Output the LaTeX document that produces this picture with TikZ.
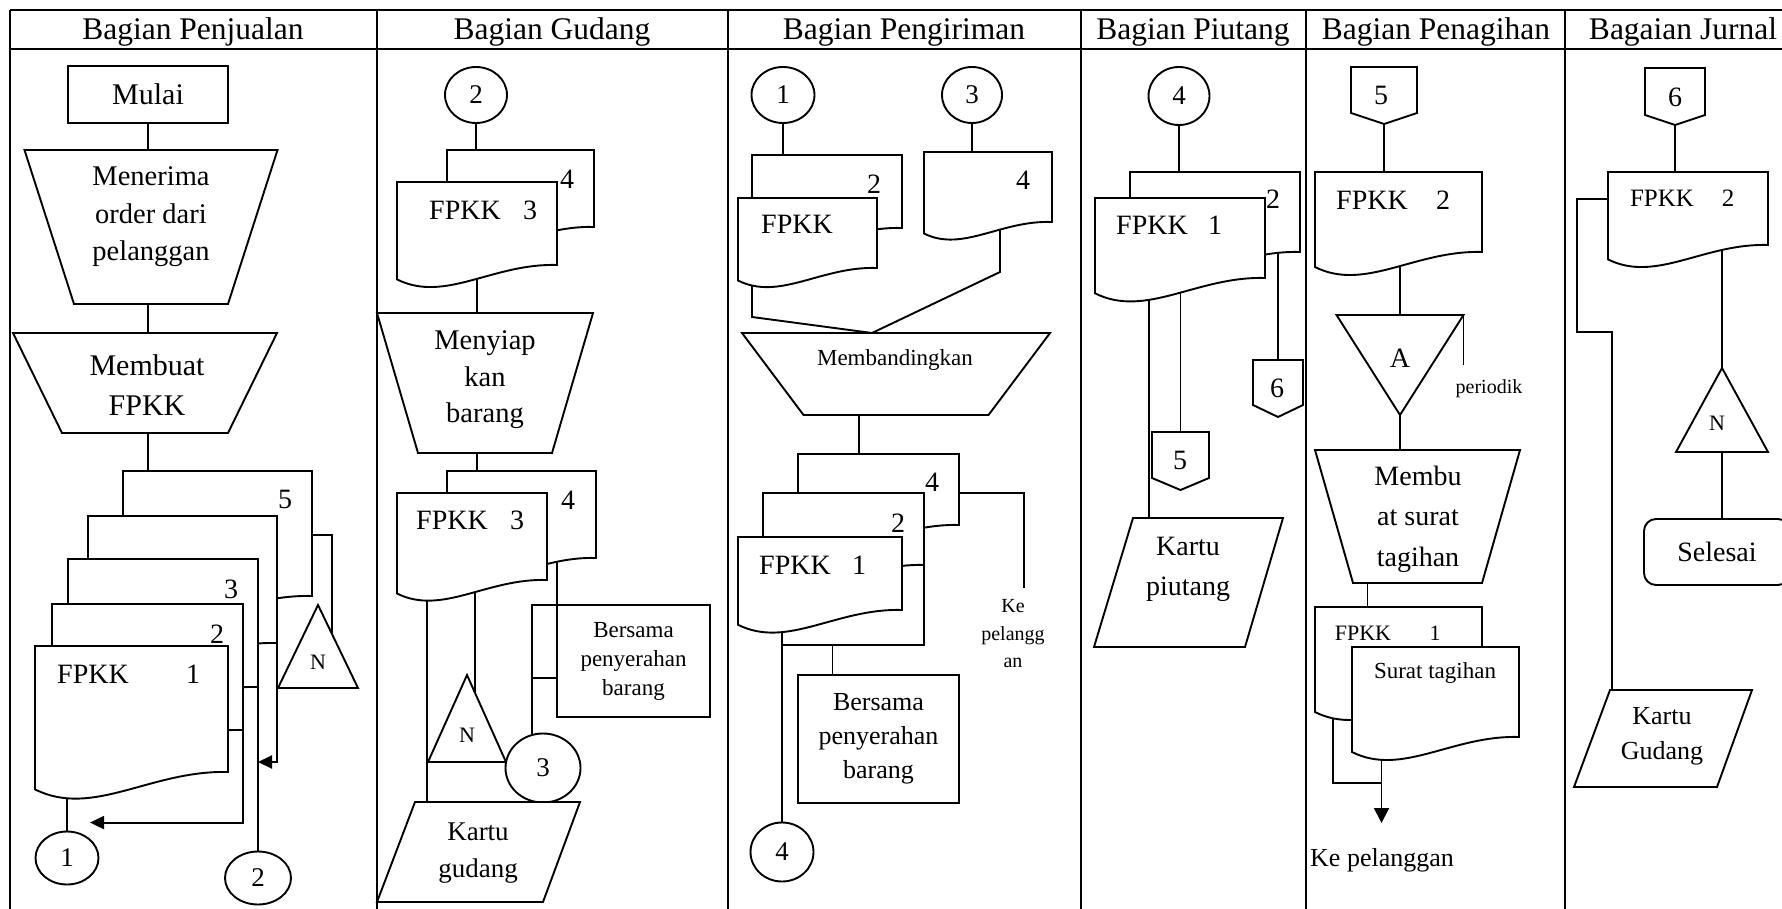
\documentclass[tikz,border=0pt]{standalone}
\usepackage{fontspec}
\setmainfont{Liberation Serif}
\usetikzlibrary{arrows.meta,positioning,calc,shapes.geometric,backgrounds}

\tikzset{
  lane/.style={line width=1.7pt},
  shp/.style={draw, fill=white, line width=1.9pt},
  flow/.style={line width=1.9pt},
  flowtip/.style={-{Triangle[length=14pt,width=13pt]}},
  shapebox/.style 2 args={inner sep=0pt, outer sep=0pt, minimum width={(#1)*1pt}, minimum height={(#2)*1pt}},
  lbl/.style={inner sep=0pt, align=center, font=\fontsize{28}{37}\selectfont},
  hdr/.style={inner sep=0pt, anchor=base, font=\fontsize{31.5}{34}\selectfont},
  conn/.style={ellipse, draw, fill=white, line width=1.9pt, inner sep=0pt, font=\fontsize{27}{30}\selectfont}
}

% document: name, left, top, right, bottom at right edge
\newcommand{\docsym}[5]{%
  \draw[shp] (#2,#3) -- (#4,#3) -- (#4,#5)
    .. controls ({#2+0.6*(#4-#2)},{#5-2}) and ({#2+0.3*(#4-#2)},{#5+0.24*(#4-#2)})
    .. (#2,{#5+0.09*(#4-#2)}) -- cycle;
  \node[shapebox={#4-#2}{#5-#3}, anchor=north west] (#1) at (#2,#3) {};}
% manual operation: name, centre x, top, bottom, top half width, bottom half width
\newcommand{\manop}[6]{%
  \draw[shp] ({#2-#5},#3) -- ({#2+#5},#3) -- ({#2+#6},#4) -- ({#2-#6},#4) -- cycle;
  \node[shapebox={2*#5}{#4-#3}, anchor=north] (#1) at (#2,#3) {};}
% card: name, top, top left, top right, bottom, bottom left, bottom right
\newcommand{\datacard}[7]{%
  \draw[shp] (#3,#2) -- (#4,#2) -- (#7,#5) -- (#6,#5) -- cycle;
  \node[shapebox={#4-#6}{#5-#2}, anchor=north west] (#1) at (#6,#2) {};}
% file triangle: name, apex x, apex y, base y, half width
\newcommand{\filetri}[5]{%
  \draw[shp] (#2,#3) -- ({#2+#5},#4) -- ({#2-#5},#4) -- cycle;
  \node[shapebox={2*#5}{abs(#4-#3)}] (#1) at (#2,{(#3+#4)/2}) {};}
% off-page connector: name, centre x, top, side bottom, point, half width
\newcommand{\offpage}[6]{%
  \draw[shp] ({#2-#6},#3) -- ({#2+#6},#3) -- ({#2+#6},#4) -- (#2,#5) -- ({#2-#6},#4) -- cycle;
  \node[shapebox={2*#6}{#5-#3}, anchor=north] (#1) at (#2,#3) {};}

\begin{document}
\begin{tikzpicture}[x=1pt, y=-1pt]
  \useasboundingbox (0,0) rectangle (1782,909);

  % Headers
  \node[hdr] (hPenjualan) at (193,40) {Bagian Penjualan};
  \node[hdr] (hGudang) at (552,40) {Bagian Gudang};
  \node[hdr] (hKirim) at (904,40) {Bagian Pengiriman};
  \node[hdr] (hPiutang) at (1193,40) {Bagian Piutang};
  \node[hdr] (hTagih) at (1436,40) {Bagian Penagihan};
  \node[hdr] (hJurnal) at (1683,40) {Bagaian Jurnal};

  % Bagian Penjualan
  \node[shp, shapebox={160}{57}, font=\fontsize{30}{34}\selectfont] (pjStart) at (148,94.5) {Mulai};
  \manop{pjOrder}{151}{150}{304}{126.5}{77}
  \manop{pjMake}{145}{333}{433}{132}{83}
  \docsym{pjDoc5}{123}{471}{312}{596}
  \docsym{pjDoc4}{88}{516}{277}{643}
  \docsym{pjDoc3}{68}{559}{258}{687}
  \docsym{pjDoc2}{52}{604}{243}{730}
  \docsym{pjDoc1}{35}{646}{228}{772}
  \filetri{pjFile}{318}{605}{688}{40}
  \node[conn, minimum width=63pt, minimum height=53pt] (pjCon1) at (67,858) {1};
  \node[conn, minimum width=66pt, minimum height=53pt] (pjCon2) at (258,878) {2};
  \node[lbl, font=\fontsize{28.5}{37.5}\selectfont] (pjOrderT) at (151,217) {Menerima\\order dari\\pelanggan};
  \node[lbl, font=\fontsize{30}{40}\selectfont] (pjMakeT) at (147,385) {Membuat\\FPKK};
  \node[lbl] (pjDoc5T) at (285,499) {5};
  \node[lbl] (pjDoc3T) at (231,589) {3};
  \node[lbl] (pjDoc2T) at (217,634) {2};
  \node[lbl] (pjDoc1T) at (93,674) {FPKK};
  \node[lbl] (pjDoc1N) at (193,674) {1};
  \node[lbl, font=\fontsize{22}{26}\selectfont] (pjFileT) at (318,662) {N};

  % Bagian Gudang
  \node[conn, minimum width=62pt, minimum height=56pt] (gdCon2) at (476,95) {2};
  \docsym{gdDoc4a}{447}{150}{594}{227}
  \docsym{gdDoc3a}{397}{182}{557}{265}
  \manop{gdPrep}{485}{313}{453}{108}{67}
  \docsym{gdDoc4b}{447}{471}{596}{558}
  \docsym{gdDoc3b}{397}{493}{547}{580}
  \filetri{gdFile}{467}{675}{762}{39}
  \node[conn, minimum width=75pt, minimum height=69pt] (gdCon3) at (543,768) {3};
  \node[shp, shapebox={153}{112}, align=center, font=\fontsize{23}{29}\selectfont] (gdWith) at (633.5,661) {Bersama\\penyerahan\\barang};
  \datacard{gdCard}{802}{415}{580}{902}{377}{543}
  \node[lbl] (gdDoc4aT) at (567,179) {4};
  \node[lbl] (gdDoc3aT) at (465,210) {FPKK};
  \node[lbl] (gdDoc3aN) at (530,210) {3};
  \node[lbl, font=\fontsize{28.5}{36.5}\selectfont] (gdPrepT) at (485,380) {Menyiap\\kan\\barang};
  \node[lbl] (gdDoc4bT) at (568,500) {4};
  \node[lbl] (gdDoc3bT) at (452,520) {FPKK};
  \node[lbl] (gdDoc3bN) at (517,520) {3};
  \node[lbl, font=\fontsize{22}{26}\selectfont] (gdFileT) at (467,735) {N};
  \node[lbl, font=\fontsize{27}{37}\selectfont] (gdCardT) at (478,853) {Kartu\\gudang};

  % Bagian Pengiriman
  \node[conn, minimum width=63pt, minimum height=56pt] (pgCon1) at (783,95) {1};
  \node[conn, minimum width=60pt, minimum height=56pt] (pgCon3) at (972,95) {3};
  \docsym{pgDoc2}{752}{155}{902}{228}
  \docsym{pgDoc1}{738}{198}{877}{268}
  \docsym{pgDoc4}{924}{152}{1052}{222}
  \manop{pgCompare}{896}{333}{415}{154}{92.5}
  \docsym{pgDoc4c}{798}{454}{959}{525}
  \docsym{pgDoc2c}{763}{493}{924}{565}
  \docsym{pgDoc1c}{738}{537}{902}{610}
  \node[shp, shapebox={161}{128}, align=center, font=\fontsize{26}{34}\selectfont] (pgWith) at (878.5,739) {Bersama\\penyerahan\\barang};
  \node[conn, minimum width=63pt, minimum height=59pt] (pgCon4) at (782,852) {4};
  \node[lbl] (pgDoc2T) at (874,184) {2};
  \node[lbl] (pgDoc1T) at (797,224) {FPKK};
  \node[lbl] (pgDoc4T) at (1023,180) {4};
  \node[lbl, font=\fontsize{23}{27}\selectfont] (pgCompareT) at (895,360) {Membandingkan};
  \node[lbl] (pgDoc4cT) at (932,482) {4};
  \node[lbl] (pgDoc2cT) at (898,523) {2};
  \node[lbl] (pgDoc1cT) at (795,565) {FPKK};
  \node[lbl] (pgDoc1cN) at (859,565) {1};
  \node[lbl, font=\fontsize{20}{27.5}\selectfont] (pgOut) at (1013,634) {Ke\\pelangg\\an};

  % Bagian Piutang
  \node[conn, minimum width=61pt, minimum height=58pt] (ptCon4) at (1179,96) {4};
  \docsym{ptDoc2}{1130}{172}{1300}{252}
  \docsym{ptDoc1}{1095}{198}{1265}{278}
  \offpage{ptOff6}{1278}{360}{405}{417}{25}
  \offpage{ptOff5}{1180.5}{432}{478}{490}{28.5}
  \datacard{ptCard}{518}{1133}{1283}{647}{1094}{1245}
  \node[lbl] (ptDoc2T) at (1273,199) {2};
  \node[lbl] (ptDoc1T) at (1152,225) {FPKK};
  \node[lbl] (ptDoc1N) at (1215,225) {1};
  \node[lbl] (ptOff6T) at (1277,388) {6};
  \node[lbl] (ptOff5T) at (1180,460) {5};
  \node[lbl, font=\fontsize{28}{40}\selectfont] (ptCardT) at (1188,569) {Kartu\\piutang};

  % Bagian Penagihan
  \offpage{pnOff5}{1384}{67}{113}{124}{33}
  \docsym{pnDoc2}{1315}{172}{1482}{252}
  \filetri{pnMerge}{1400}{415}{315}{63.5}
  \manop{pnBill}{1417.5}{450}{583}{102.5}{64.5}
  \docsym{pnDoc1}{1315}{607}{1482}{697}
  \docsym{pnSurat}{1352}{647}{1519}{737}
  \node[lbl] (pnOff5T) at (1381,95) {5};
  \node[lbl] (pnDoc2T) at (1372,200) {FPKK};
  \node[lbl] (pnDoc2N) at (1443,200) {2};
  \node[lbl] (pnMergeT) at (1400,358) {A};
  \node[lbl, font=\fontsize{20}{24}\selectfont] (pnPeriod) at (1489,389) {periodik};
  \node[lbl, font=\fontsize{28}{40.5}\selectfont] (pnBillT) at (1418,519) {Membu\\at surat\\tagihan};
  \node[lbl, font=\fontsize{22}{26}\selectfont] (pnDoc1T) at (1363,633) {FPKK};
  \node[lbl, font=\fontsize{22}{26}\selectfont] (pnDoc1N) at (1435,633) {1};
  \node[lbl, font=\fontsize{23}{27}\selectfont] (pnSuratT) at (1435,673) {Surat tagihan};
  \node[lbl, font=\fontsize{26}{30}\selectfont] (pnOut) at (1382,860) {Ke pelanggan};

  % Bagaian Jurnal
  \offpage{jrOff6}{1675}{68}{115}{125}{30}
  \docsym{jrDoc2}{1608}{172}{1768}{245}
  \filetri{jrFile}{1722}{368}{452}{46}
  \node[shp, shapebox={146}{66}, rounded corners=12pt, font=\fontsize{28}{32}\selectfont] (jrEnd) at (1717,552) {Selesai};
  \datacard{jrCard}{690}{1610}{1752}{787}{1574}{1717}
  \node[lbl] (jrOff6T) at (1675,97) {6};
  \node[lbl, font=\fontsize{25}{29}\selectfont] (jrDoc2T) at (1662,198) {FPKK};
  \node[lbl, font=\fontsize{25}{29}\selectfont] (jrDoc2N) at (1728,198) {2};
  \node[lbl, font=\fontsize{22}{26}\selectfont] (jrFileT) at (1717,423) {N};
  \node[lbl, font=\fontsize{26}{35}\selectfont] (jrCardT) at (1662,736) {Kartu\\Gudang};

  \begin{scope}[on background layer]
    \fill[white] (0,0) rectangle (1782,909);
    % lanes
    \draw[lane] (10,10) -- (1800,10);
    \draw[lane] (10,49) -- (1800,49);
    \foreach \lx in {10,377,728,1081,1306,1565}
      \draw[lane] (\lx,10) -- (\lx,909);

    % Penjualan flow
    \draw[flow] (pjStart) -- (pjStart |- pjOrder);
    \draw[flow] (pjStart |- pjOrder) -- (pjStart |- pjMake);
    \draw[flow] (pjStart |- pjMake) -- (pjStart |- pjDoc5);
    \coordinate (pjTap5) at ($(pjDoc5.north east)+(0,64)$);
    \draw[flow] (pjTap5) -| ($(pjFile)+(14,0)$);
    \draw[flow] (pjCon1) -- (pjCon1 |- pjDoc1);
    \coordinate (pjBack1) at ($(pjCon1.north)+(23,-8)$);
    \draw[flow, flowtip] (pjDoc2.south east) |- (pjBack1);
    \draw[flow] (pjDoc3.north east) -- (pjDoc3.north east |- pjCon2);
    \coordinate (pjJoin) at (pjDoc3.east |- 0,762);
    \draw[flow, flowtip] (pjDoc4.south east) |- (pjJoin);

    % Gudang flow
    \draw[flow] (gdCon2) -- (gdCon2 |- gdDoc3a);
    \draw[flow] (gdDoc3a) -- (gdDoc3a |- gdPrep);
    \draw[flow] (gdDoc3a |- gdPrep) -- (gdDoc3a |- gdDoc3b);
    \coordinate (gdLeft) at ($(gdDoc3b.west)+(30,0)$);
    \draw[flow] (gdLeft) -- (gdLeft |- gdCard);
    \coordinate (gdMid) at ($(gdDoc3b.west)+(78,0)$);
    \draw[flow] (gdMid) -- (gdMid |- gdFile);
    \draw[flow] (gdWith.north west |- gdDoc4b) -- (gdWith.north west) -- ++(-25,0) coordinate (gdSplit) -- (gdSplit |- gdCon3);
    \draw[flow] (gdSplit |- 0,678) -- (gdWith.west |- 0,678);

    % Pengiriman flow
    \draw[flow] (pgCon1) -- (pgCon1 |- pgDoc1);
    \draw[flow] (pgCon3) -- (pgCon3 |- pgDoc4);
    \coordinate (pgIn) at ($(pgCompare.north)+(-24,0)$);
    \coordinate (pgL) at ($(pgDoc1.west)+(14,0)$);
    \coordinate (pgR) at ($(pgDoc4.east)+(-52,0)$);
    \draw[flow] (pgL) -- (pgL |- 0,317) -- (pgIn);
    \draw[flow] (pgR) -- (pgR |- 0,272) -- (pgIn);
    \coordinate (pgDown) at ($(pgCompare.south)+(-37,0)$);
    \draw[flow] (pgDown) -- (pgDown |- pgDoc4c);
    \draw[flow] (pgCon4) -- (pgCon4 |- pgDoc1c);
    \draw[flow] (pgDoc2c.south east) |- (pgCon4 |- 0,645);
    \coordinate (pgTap) at ($(pgWith.north)+(-46,0)$);
    \draw[flow] (pgTap) -- (pgTap |- 0,645);
    \draw[flow] (pgDoc4c.east |- 0,493) -| ($(pgOut.north)+(11,-12)$);

    % Piutang flow
    \draw[flow] (ptCon4) -- (ptCon4 |- ptDoc1);
    \draw[flow] (ptOff6 |- ptDoc2) -- (ptOff6);
    \coordinate (ptLeft) at ($(ptDoc1.west)+(54,0)$);
    \draw[flow] (ptLeft) -- (ptLeft |- ptCard);
    \draw[flow] (ptOff5 |- ptDoc1) -- (ptOff5);

    % Penagihan flow
    \draw[flow] (pnOff5) -- (pnOff5 |- pnDoc2);
    \draw[flow] (pnMerge |- pnDoc2) -- (pnMerge);
    \draw[flow] (pnMerge.north east) -- ++(0,50);
    \draw[flow] (pnMerge) -- (pnMerge |- pnBill);
    \coordinate (pnDown) at ($(pnBill.south)+(-50,0)$);
    \draw[flow] (pnDown) -- (pnDown |- pnDoc1);
    \coordinate (pnLeft) at ($(pnDoc1.west)+(18,0)$);
    \coordinate (pnOutTop) at ($(pnSurat.south)+(-54,0)$);
    \draw[flow] (pnLeft) |- ($(pnOutTop)+(0,46)$);
    \draw[flow, -{Triangle[length=15pt,width=15pt]}] (pnOutTop |- pnSurat) -- ($(pnOutTop)+(0,86)$);

    % Jurnal flow
    \draw[flow] (jrOff6) -- (jrOff6 |- jrDoc2);
    \coordinate (jrTap) at (jrDoc2.west |- 0,199);
    \coordinate (jrBend) at ($(jrTap)+(-31,133)$);
    \coordinate (jrDrop) at ($(jrCard.west)+(38,0)$);
    \draw[flow] (jrTap) -| (jrBend) -| (jrDrop);
    \draw[flow] (jrFile |- jrDoc2) -- (jrFile);
    \draw[flow] (jrFile) -- (jrFile |- jrEnd);
  \end{scope}
\end{tikzpicture}
\end{document}
